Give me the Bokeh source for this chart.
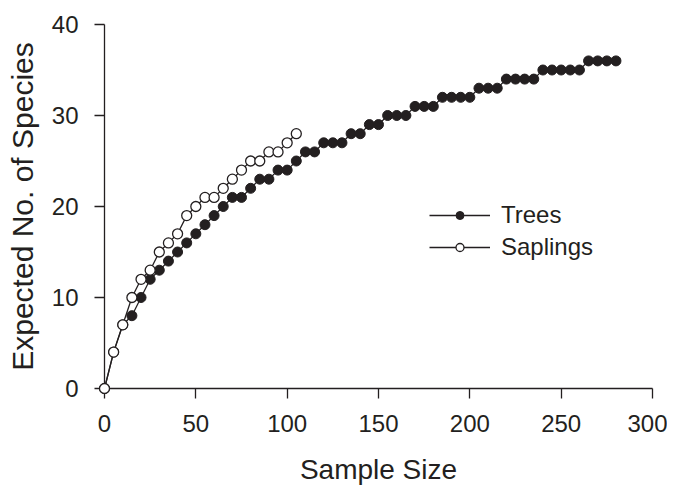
from bokeh.plotting import figure
from bokeh.models import Range1d, Legend, LegendItem
from bokeh.embed import file_html
from bokeh.resources import INLINE

# Data
tree_x = list(range(0, 285, 5))
tree_y = [0, 4, 7, 8, 10, 12, 13, 14, 15, 16, 17, 18, 19, 20, 21, 21, 22, 23, 23, 24,
          24, 25, 26, 26, 27, 27, 27, 28, 28, 29, 29, 30, 30, 30, 31, 31, 31, 32, 32, 32,
          32, 33, 33, 33, 34, 34, 34, 34, 35, 35, 35, 35, 35, 36, 36, 36, 36]
sap_x = list(range(0, 110, 5))
sap_y = [0, 4, 7, 10, 12, 13, 15, 16, 17, 19, 20, 21, 21, 22, 23, 24, 25, 25, 26, 26, 27, 28]

x_ticks = [0, 50, 100, 150, 200, 250, 300]
y_ticks = [0, 10, 20, 30, 40]

INK = "#231f20"
FONT = "Liberation Sans"

p = figure(width=667, height=487, output_backend="svg", toolbar_location=None,
           x_range=Range1d(0, 300), y_range=Range1d(0, 40),
           min_border_left=104, min_border_right=15, min_border_top=24, min_border_bottom=99,
           x_axis_label="Sample Size", y_axis_label="Expected No. of Species")
p.outline_line_color = None
p.grid.visible = False
p.background_fill_color = "white"
p.border_fill_color = "white"

for ax in (p.xaxis[0], p.yaxis[0]):
    ax.axis_line_color = INK
    ax.axis_line_width = 1.3
    ax.major_tick_line_color = INK
    ax.major_tick_line_width = 1.3
    ax.major_tick_out = 10
    ax.major_tick_in = 0
    ax.minor_tick_line_color = None
    ax.major_label_text_font = FONT
    ax.major_label_text_font_size = "24px"
    ax.major_label_text_color = INK
    ax.axis_label_text_font = FONT
    ax.axis_label_text_font_style = "normal"
    ax.axis_label_text_color = INK

p.xaxis[0].ticker = x_ticks
p.yaxis[0].ticker = y_ticks
p.xaxis[0].major_label_standoff = 16
p.yaxis[0].major_label_standoff = 16
p.xaxis[0].axis_label_text_font_size = "28px"
p.yaxis[0].axis_label_text_font_size = "30px"
p.xaxis[0].axis_label_standoff = 19
p.yaxis[0].axis_label_standoff = 10

tl = p.line(tree_x, tree_y, line_color=INK, line_width=1.3)
ts = p.scatter(tree_x, tree_y, size=10, fill_color=INK, line_color=INK, line_width=1, level="overlay")
sl = p.line(sap_x, sap_y, line_color=INK, line_width=1.3)
ss = p.scatter(sap_x, sap_y, size=10, fill_color="white", line_color=INK, line_width=1.3, level="overlay")

legend = Legend(items=[LegendItem(label="Trees", renderers=[tl, ts]),
                       LegendItem(label="Saplings", renderers=[sl, ss])],
                location=(325, 127), padding=0, margin=0, spacing=4,
                glyph_width=61, glyph_height=20, label_height=20, label_standoff=11,
                border_line_color=None, background_fill_alpha=0,
                label_text_font=FONT, label_text_font_size="24px", label_text_color=INK)
p.add_layout(legend, "center")

open("out.html", "w").write(file_html(p, INLINE))
